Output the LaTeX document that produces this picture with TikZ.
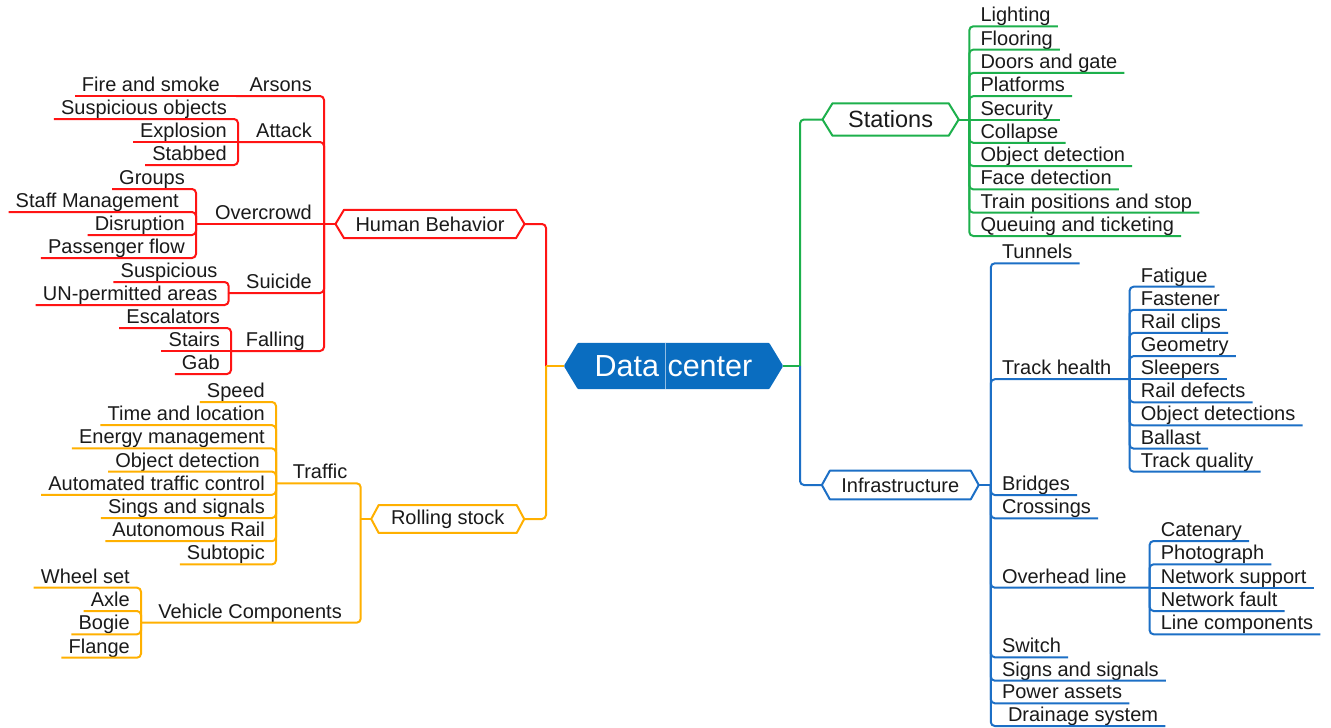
\documentclass[tikz,border=0pt]{standalone}
\usepackage{fontspec}
\setmainfont{Liberation Sans}
\pgfdeclarelayer{background}
\pgfsetlayers{background,main}
\definecolor{cred}{HTML}{FF1414}
\definecolor{corg}{HTML}{FFB000}
\definecolor{cgrn}{HTML}{1DB04C}
\definecolor{cblu}{HTML}{1C6FC6}
\definecolor{cfill}{HTML}{0A6DC0}
\definecolor{ctxt}{HTML}{1A1A1A}
\tikzset{
  txt/.style={font=\fontsize{20}{24}\selectfont, text=ctxt},
  lleaf/.style={txt, anchor=south east, inner xsep=7pt, inner ysep=0pt, text height=14.5pt, text depth=4.3pt},
  rleaf/.style={txt, anchor=south west, inner xsep=7pt, inner ysep=0pt, text height=14.5pt, text depth=4.3pt},
  hexbox/.style={inner sep=0pt, draw=none},
  link/.style={line width=2pt, rounded corners=4pt},
  hexline/.style={line width=2pt, line join=round, fill=white},
}
\begin{document}
\begin{tikzpicture}[x=1pt,y=-1pt]
\useasboundingbox (0,0) rectangle (1331,728);

% ---------- centre ----------
\node[hexbox, minimum width=219pt, minimum height=46pt, font=\fontsize{30.5}{34}\selectfont, text=white] (dc) at (673.5,366) {Data center};
\coordinate (lJ) at (546,366);
\coordinate (rJ) at (800,366);

% ---------- Human Behavior (red) ----------
\node[hexbox, txt, minimum width=188.6pt, minimum height=28pt] (hb) at (430,224) {Human Behavior};
\coordinate (hbJ) at (324,224);
\node[lleaf] (arsons) at (319,96) {Arsons};
\coordinate (arsJ) at (236,96);
\node[lleaf] (fire) at (227,96) {Fire and smoke};
\node[lleaf] (attack) at (319,142) {Attack};
\coordinate (attJ) at (238,142);
\node[lleaf] (susobj) at (234,119) {Suspicious objects};
\node[lleaf] (explo) at (234,142) {Explosion};
\node[lleaf] (stab) at (234,165) {Stabbed};
\node[lleaf] (overc) at (319,224) {Overcrowd};
\coordinate (ovJ) at (196,224);
\node[lleaf] (groups) at (192,189) {Groups};
\node[lleaf] (staff) at (186,212) {Staff Management};
\node[lleaf] (disr) at (192,235) {Disruption};
\node[lleaf] (pflow) at (192,258) {Passenger flow};
\node[lleaf] (suic) at (319,293) {Suicide};
\coordinate (suJ) at (228.6,293);
\node[lleaf] (susp) at (224.6,282) {Suspicious};
\node[lleaf] (unper) at (224.6,305) {UN-permitted areas};
\node[lleaf] (fall) at (312,351) {Falling};
\coordinate (faJ) at (231,351);
\node[lleaf] (escal) at (227,328) {Escalators};
\node[lleaf] (stairs) at (227,351) {Stairs};
\node[lleaf] (gab) at (227,374) {Gab};

% ---------- Rolling stock (orange) ----------
\node[hexbox, txt, minimum width=152.6pt, minimum height=27.5pt] (rs) at (447.7,519) {Rolling stock};
\coordinate (rsJ) at (360.7,519);
\node[lleaf] (traffic) at (354.5,483.3) {Traffic};
\coordinate (trJ) at (276,483.3);
\node[lleaf] (speed) at (272,402) {Speed};
\node[lleaf] (timeloc) at (272,425.2) {Time and location};
\node[lleaf] (energy) at (272,448.4) {Energy management};
\node[lleaf] (objdet) at (267,471.6) {Object detection};
\node[lleaf] (atc) at (272,494.8) {Automated traffic control};
\node[lleaf] (sings) at (272,518) {Sings and signals};
\node[lleaf] (auton) at (272,541.2) {Autonomous Rail};
\node[lleaf] (subt) at (272,564.4) {Subtopic};
\node[lleaf] (vehc) at (349,622.7) {Vehicle Components};
\coordinate (vcJ) at (141,622.7);
\node[lleaf] (wheel) at (137,587.7) {Wheel set};
\node[lleaf] (axle) at (137,611) {Axle};
\node[lleaf] (bogie) at (137,634.3) {Bogie};
\node[lleaf] (flange) at (137,657.7) {Flange};

% ---------- Stations (green) ----------
\node[hexbox, font=\fontsize{23.5}{28}\selectfont, text=ctxt, minimum width=135.8pt, minimum height=32pt] (st) at (890.6,119.5) {Stations};
\coordinate (stJ) at (969.3,119.5);
\node[rleaf] (light) at (973.3,26.3) {Lighting};
\node[rleaf] (floor) at (973.3,49.6) {Flooring};
\node[rleaf] (doors) at (973.3,72.9) {Doors and gate};
\node[rleaf] (platf) at (973.3,96.2) {Platforms};
\node[rleaf] (secur) at (973.3,119.5) {Security};
\node[rleaf] (colla) at (973.3,142.8) {Collapse};
\node[rleaf] (sobj) at (973.3,166.1) {Object detection};
\node[rleaf] (face) at (973.3,189.4) {Face detection};
\node[rleaf] (train) at (973.3,212.7) {Train positions and stop};
\node[rleaf] (queue) at (973.3,236) {Queuing and ticketing};

% ---------- Infrastructure (blue) ----------
\node[hexbox, txt, minimum width=156.5pt, minimum height=28.3pt] (inf) at (900.3,485) {Infrastructure};
\coordinate (infJ) at (990.8,485);
\node[rleaf] (tunn) at (994.8,263.3) {Tunnels};
\node[rleaf] (trackh) at (994.8,379.2) {Track health};
\coordinate (thJ) at (1129.6,379.2);
\node[rleaf] (fatig) at (1133.6,286.7) {Fatigue};
\node[rleaf] (fasten) at (1133.6,309.8) {Fastener};
\node[rleaf] (clips) at (1133.6,332.95) {Rail clips};
\node[rleaf] (geom) at (1133.6,356.1) {Geometry};
\node[rleaf] (sleep) at (1133.6,379.2) {Sleepers};
\node[rleaf] (rdef) at (1133.6,402.3) {Rail defects};
\node[rleaf] (odets) at (1133.6,425.45) {Object detections};
\node[rleaf] (ballast) at (1133.6,448.6) {Ballast};
\node[rleaf] (tq) at (1133.6,471.7) {Track quality};
\node[rleaf] (bridg) at (994.8,495) {Bridges};
\node[rleaf] (cross) at (994.8,518.3) {Crossings};
\node[rleaf] (overh) at (994.8,587.7) {Overhead line};
\coordinate (ohJ) at (1149.6,587.7);
\node[rleaf] (caten) at (1153.6,541) {Catenary};
\node[rleaf] (photo) at (1153.6,564.3) {Photograph};
\node[rleaf] (nsup) at (1153.6,587.7) {Network support};
\node[rleaf] (nfault) at (1153.6,611) {Network fault};
\node[rleaf] (lcomp) at (1153.6,634.3) {Line components};
\node[rleaf] (switch) at (994.8,657.3) {Switch};
\node[rleaf] (signs) at (994.8,680.7) {Signs and signals};
\node[rleaf] (power) at (994.8,703.3) {Power assets};
\node[rleaf] (drain) at (994.8,726) {\hspace*{6pt}Drainage system};

% ---------- background and hexagon frames ----------
\begin{pgfonlayer}{background}
\fill[white] (0,0) rectangle (1331,728);
\fill[cfill, rounded corners=1pt] (dc.west) -- ([xshift=14pt]dc.north west) -- ([xshift=-14pt]dc.north east) -- (dc.east) -- ([xshift=-14pt]dc.south east) -- ([xshift=14pt]dc.south west) -- cycle;
\draw[white!55!cfill, line width=0.6pt] ([xshift=-8.5pt]dc.north) -- ([xshift=-8.5pt]dc.south);
\draw[hexline, draw=cred] (hb.west) -- ([xshift=8.5pt]hb.north west) -- ([xshift=-8.5pt]hb.north east) -- (hb.east) -- ([xshift=-8.5pt]hb.south east) -- ([xshift=8.5pt]hb.south west) -- cycle;
\draw[hexline, draw=corg] (rs.west) -- ([xshift=7.5pt]rs.north west) -- ([xshift=-7.5pt]rs.north east) -- (rs.east) -- ([xshift=-7.5pt]rs.south east) -- ([xshift=7.5pt]rs.south west) -- cycle;
\draw[hexline, draw=cgrn] (st.west) -- ([xshift=10pt]st.north west) -- ([xshift=-10pt]st.north east) -- (st.east) -- ([xshift=-10pt]st.south east) -- ([xshift=10pt]st.south west) -- cycle;
\draw[hexline, draw=cblu] (inf.west) -- ([xshift=8pt]inf.north west) -- ([xshift=-8pt]inf.north east) -- (inf.east) -- ([xshift=-8pt]inf.south east) -- ([xshift=8pt]inf.south west) -- cycle;
\end{pgfonlayer}

% ---------- red connectors ----------
\begin{scope}[link, cred]
\draw (lJ) |- (hb.east);
\draw (hb.west) -- (hbJ);
\draw (hbJ) |- (arsJ);
\draw (arsJ) -- (fire.south west);
\draw (hbJ) |- (attJ);
\draw (attJ) |- (susobj.south west);
\draw (attJ) -- (explo.south west);
\draw (attJ) |- (stab.south west);
\draw (hbJ) -- (ovJ);
\draw (ovJ) |- (groups.south west);
\draw (ovJ) |- (staff.south west);
\draw (ovJ) |- (disr.south west);
\draw (ovJ) |- (pflow.south west);
\draw (hbJ) |- (suJ);
\draw (suJ) |- (susp.south west);
\draw (suJ) |- (unper.south west);
\draw (hbJ) |- (faJ);
\draw (faJ) |- (escal.south west);
\draw (faJ) -- (stairs.south west);
\draw (faJ) |- (gab.south west);
\end{scope}

% ---------- orange connectors ----------
\begin{scope}[link, corg]
\draw (dc.west) -- (lJ);
\draw (lJ) |- (rs.east);
\draw (rs.west) -- (rsJ);
\draw (rsJ) |- (trJ);
\draw (rsJ) |- (vcJ);
\draw (trJ) |- (speed.south west);
\draw (trJ) |- (timeloc.south west);
\draw (trJ) |- (energy.south west);
\draw (trJ) |- (objdet.south west);
\draw (trJ) |- (atc.south west);
\draw (trJ) |- (sings.south west);
\draw (trJ) |- (auton.south west);
\draw (trJ) |- (subt.south west);
\draw (vcJ) |- (wheel.south west);
\draw (vcJ) |- (axle.south west);
\draw (vcJ) |- (bogie.south west);
\draw (vcJ) |- (flange.south west);
\end{scope}

% ---------- green connectors ----------
\begin{scope}[link, cgrn]
\draw (dc.east) -- (rJ);
\draw (rJ) |- (st.west);
\draw (st.east) -- (stJ);
\draw (stJ) |- (light.south east);
\draw (stJ) |- (floor.south east);
\draw (stJ) |- (doors.south east);
\draw (stJ) |- (platf.south east);
\draw (stJ) -- (secur.south east);
\draw (stJ) |- (colla.south east);
\draw (stJ) |- (sobj.south east);
\draw (stJ) |- (face.south east);
\draw (stJ) |- (train.south east);
\draw (stJ) |- (queue.south east);
\end{scope}

% ---------- blue connectors ----------
\begin{scope}[link, cblu]
\draw (rJ) |- (inf.west);
\draw (inf.east) -- (infJ);
\draw (infJ) |- (tunn.south east);
\draw (infJ) |- (thJ);
\draw (thJ) |- (fatig.south east);
\draw (thJ) |- (fasten.south east);
\draw (thJ) |- (clips.south east);
\draw (thJ) |- (geom.south east);
\draw (thJ) -- (sleep.south east);
\draw (thJ) |- (rdef.south east);
\draw (thJ) |- (odets.south east);
\draw (thJ) |- (ballast.south east);
\draw (thJ) |- (tq.south east);
\draw (infJ) |- (bridg.south east);
\draw (infJ) |- (cross.south east);
\draw (infJ) |- (ohJ);
\draw (ohJ) |- (caten.south east);
\draw (ohJ) |- (photo.south east);
\draw (ohJ) -- (nsup.south east);
\draw (ohJ) |- (nfault.south east);
\draw (ohJ) |- (lcomp.south east);
\draw (infJ) |- (switch.south east);
\draw (infJ) |- (signs.south east);
\draw (infJ) |- (power.south east);
\draw (infJ) |- (drain.south east);
\end{scope}
\end{tikzpicture}
\end{document}
